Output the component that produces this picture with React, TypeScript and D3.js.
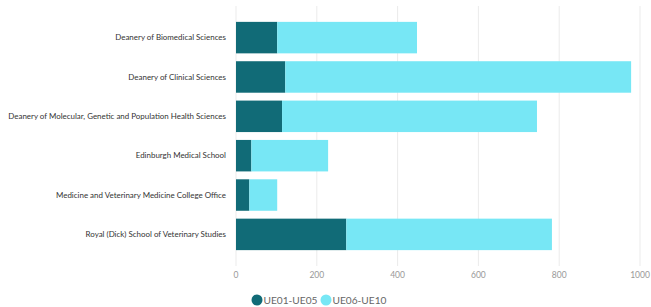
import React, { useRef, useEffect } from 'react'
import * as d3 from 'd3'

const schools = [
    'Deanery of Biomedical Sciences',
    'Deanery of Clinical Sciences',
    'Deanery of Molecular, Genetic and Population Health Sciences',
    'Edinburgh Medical School',
    'Medicine and Veterinary Medicine College Office',
    'Royal (Dick) School of Veterinary Studies',
]
const ue01to05 = [102, 122, 114, 38, 33, 273]
const ue06to10 = [346, 856, 631, 190, 69, 509]
const seriesNames = ['UE01-UE05', 'UE06-UE10']
const colors = ['#116b77', '#77e7f5']
const xTicks = [0, 200, 400, 600, 800, 1000]

const App = () => {
    const svgRef = useRef<SVGSVGElement>(null)

    useEffect(() => {
        const svg = d3.select(svgRef.current)
        const width = 651
        const height = 307
        const margin = { top: 14, right: 11, bottom: 49, left: 236 }
        const font = 'Lato, "Open Sans", sans-serif'

        svg.selectAll('*').remove()

        const rows = schools.map((s, i) => ({ name: s, a: ue01to05[i], b: ue06to10[i] }))

        const xScale = d3.scaleLinear().domain([0, 1000]).range([margin.left, width - margin.right])
        const yScale = d3
            .scaleBand()
            .domain(schools)
            .range([margin.top, height - margin.bottom])
            .paddingInner(0.2)
            .paddingOuter(0.2)

        // gridlines
        svg.append('g')
            .selectAll('line')
            .data(xTicks)
            .enter()
            .append('line')
            .attr('x1', (d) => xScale(d))
            .attr('x2', (d) => xScale(d))
            .attr('y1', 6)
            .attr('y2', 266)
            .attr('stroke', '#ebebeb')
            .attr('stroke-width', 1)

        // stacked bars
        const stack = d3.stack<any>().keys(['a', 'b'])(rows)
        svg.append('g')
            .selectAll('g')
            .data(stack)
            .enter()
            .append('g')
            .attr('fill', (d, i) => colors[i])
            .selectAll('rect')
            .data((d) => d)
            .enter()
            .append('rect')
            .attr('x', (d) => xScale(d[0]))
            .attr('width', (d) => xScale(d[1]) - xScale(d[0]))
            .attr('y', (d) => yScale(d.data.name)!)
            .attr('height', yScale.bandwidth())

        // category labels (font size fitted so the longest label is ~218px wide)
        const labels = svg.append('g')
            .selectAll('text')
            .data(schools)
            .enter()
            .append('text')
            .attr('x', margin.left - 10)
            .attr('y', (d) => yScale(d)! + yScale.bandwidth() / 2)
            .attr('dy', '0.35em')
            .attr('text-anchor', 'end')
            .style('font-family', font)
            .style('font-size', '10px')
            .attr('fill', '#333')
            .text((d) => d)
        const longest = d3.max(labels.nodes(), (n) => (n as SVGTextElement).getComputedTextLength()) || 218
        labels.style('font-size', `${(10 * 218) / longest}px`)

        // x tick labels
        svg.append('g')
            .selectAll('text')
            .data(xTicks)
            .enter()
            .append('text')
            .attr('x', (d) => xScale(d))
            .attr('y', 278)
            .attr('text-anchor', 'middle')
            .style('font-family', font)
            .style('font-size', '8.5px')
            .attr('fill', '#999')
            .text((d) => d)

        // legend
        const legend = svg.append('g').attr('transform', 'translate(257, 300)')
        const offsets = [0, 69]
        seriesNames.forEach((name, i) => {
            const g = legend.append('g').attr('transform', `translate(${offsets[i]}, 0)`)
            g.append('circle').attr('r', 5.5).attr('fill', colors[i])
            const t = g.append('text')
                .attr('x', 6.5)
                .attr('dy', '0.35em')
                .style('font-family', font)
                .style('font-size', '12px')
                .attr('fill', '#666')
                .text(name)
            const w = (t.node() as SVGTextElement).getComputedTextLength() || 54
            t.style('font-size', `${(12 * 54) / w}px`)
        })
    }, [])

    return (
        <svg
            ref={svgRef}
            width={651}
            height={307}
            style={{ position: 'absolute', left: 0, top: 0, background: '#fff' }}
        />
    )
}

export default App
